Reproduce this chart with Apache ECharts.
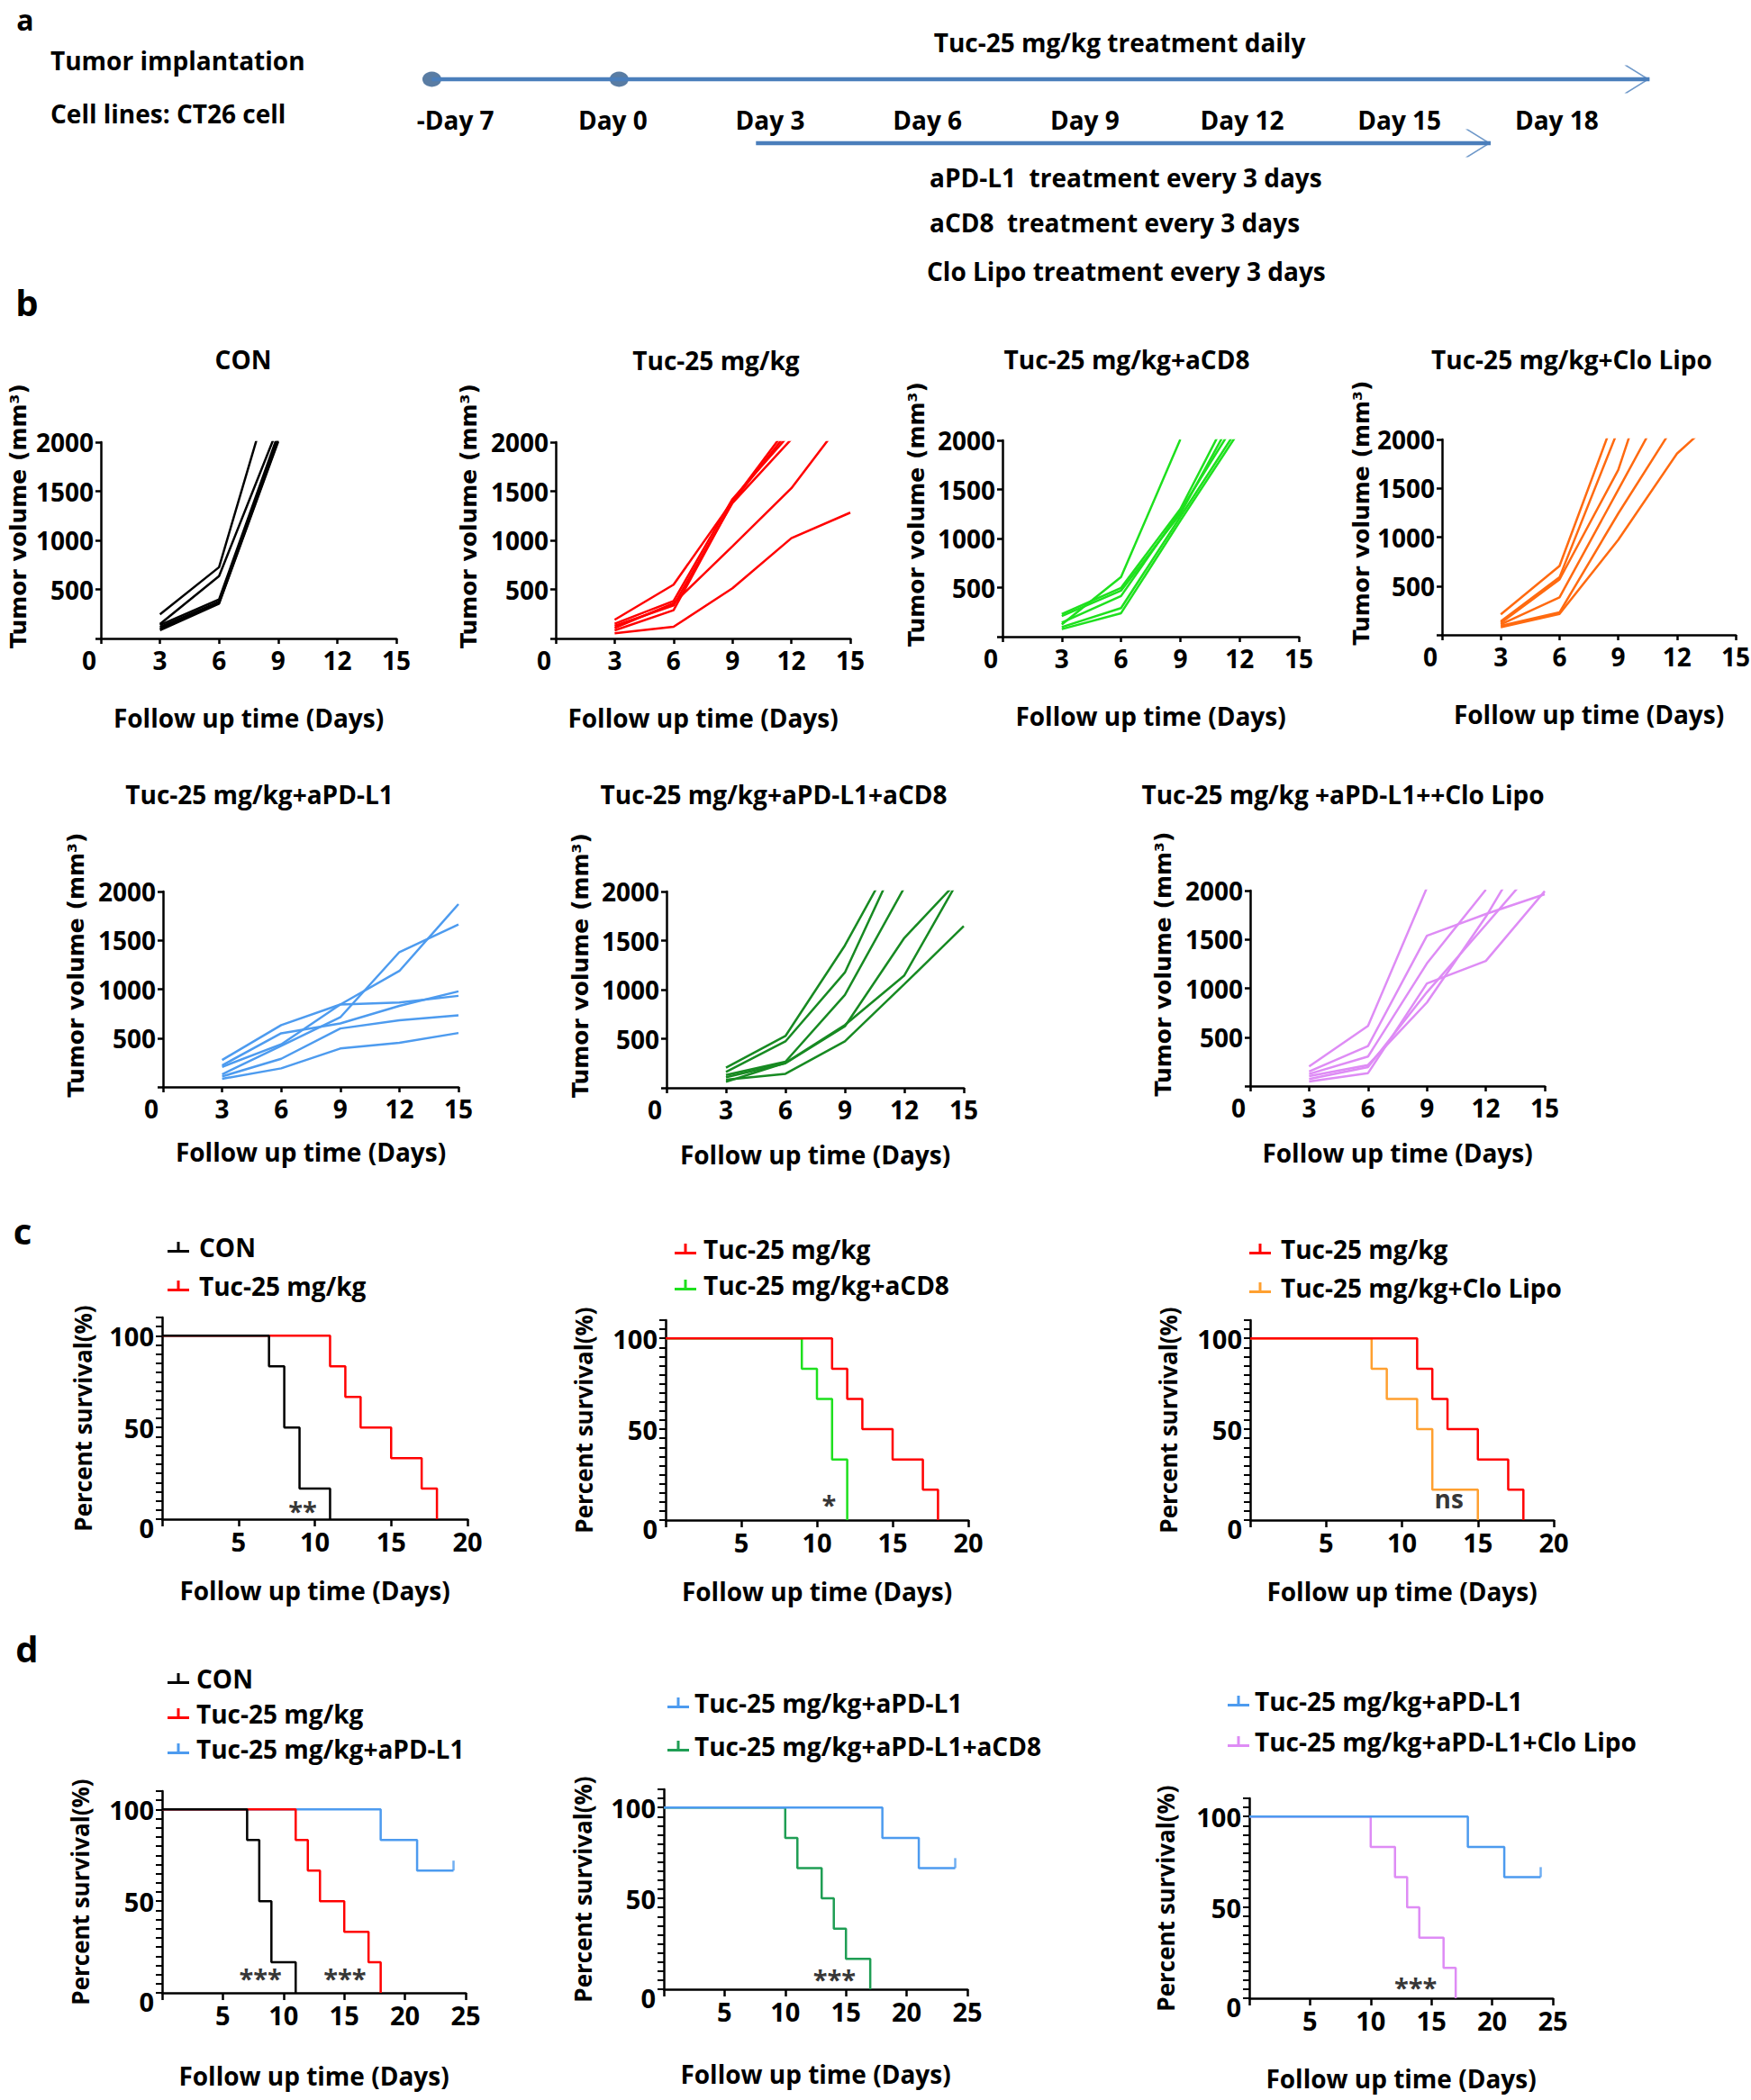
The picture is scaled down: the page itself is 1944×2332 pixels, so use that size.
<!DOCTYPE html>
<html><head><meta charset="utf-8">
<script src="https://cdn.jsdelivr.net/npm/echarts/dist/echarts.min.js"></script>
<style>html,body{margin:0;padding:0;background:#fff}#c{width:1944px;height:2332px}</style>
</head><body><div id="c"></div>
<script>
// ---------------- DATA ----------------
// panel a: timeline (slot index along the schematic axis)
const timelineLabels = ['-Day 7','Day 0','Day 3','Day 6','Day 9','Day 12','Day 15','Day 18'];
const implantMarkers = [-0.15, 1.04];
const dailyArrow = [-0.15, 7.59];
const every3Arrow = [1.91, 6.58];
const timelineNotes = ['Tuc-25 mg/kg treatment daily','Tumor implantation','Cell lines: CT26 cell',
  'aPD-L1\u00a0 treatment every 3 days','aCD8\u00a0 treatment every 3 days','Clo Lipo treatment every 3 days'];

// panel b: tumor volumes (mm3) on follow-up days
const tumorDays = [3, 6, 9, 12, 15];
const volCON = [[245,726,2770],[146,635,2150],[137,397,2080],[116,375,2040],[100,362,2020],[85,354,2005]];
const volTuc = [[190,548,1400,2200],[150,382,1420,2100],[128,337,1380,2030],[107,358,940,1530,2320],[83,288,1390,2150],[52,119,511,1022,1282]];
const volCD8 = [[123,607,2010],[230,497,1300,2470],[209,469,1250,2350],[144,414,1280,2250],[98,291,1220,2150],[77,239,1180,2100]];
const volClo = [[209,705,2324],[138,589,2100],[123,567,1687,3500],[107,383,1485,2590],[92,230,1242,2190],[77,215,972,1855,2400]];
const volPDL1 = [[276,632,843,865,932],[221,549,650,830,978],[205,436,843,1187,1871],[129,420,712,1380,1662],[107,288,598,681,733],[83,190,393,451,552]];
const volPDCD8 = [[205,528,1450,2550],[162,473,1175,2480],[131,266,946,2040],[107,250,626,1527,2170],[82,143,473,1056,1648],[61,255,640,1145,2210]];
const volPDClo = [[200,615,2030],[148,409,1538,1760,1963],[123,302,1255,2010],[102,215,855,1732,2740],[71,194,960,1650,2350],[46,132,1049,1280,1994]];
const panelTitlesB = ['CON','Tuc-25 mg/kg','Tuc-25 mg/kg+aCD8','Tuc-25 mg/kg+Clo Lipo',
  'Tuc-25 mg/kg+aPD-L1','Tuc-25 mg/kg+aPD-L1+aCD8','Tuc-25 mg/kg +aPD-L1++Clo Lipo'];

// panels c, d: Kaplan-Meier survival [day, percent]
const kmCON   = [[0,100],[7,83.3],[8,50],[9,16.7],[11,0]];
const kmTuc   = [[0,100],[11,83.3],[12,66.7],[13,50],[15,33.3],[17,16.7],[18,0]];
const kmCD8   = [[0,100],[9,83.3],[10,66.7],[11,33.3],[12,0]];
const kmClo   = [[0,100],[8,83.3],[9,66.7],[11,50],[12,16.7],[15,0]];
const kmPDL1  = [[0,100],[18,83.3],[21,66.7],[24,66.7]];
const kmPDCD8 = [[0,100],[10,83.3],[11,66.7],[13,50],[14,33.3],[15,16.7],[17,0]];
const kmPDClo = [[0,100],[10,83.3],[12,66.7],[13,50],[14,33.3],[16,16.7],[17,0]];
const censorPDL1 = [[24,66.7]];
const survTicksC = 20, survTicksD = 25;
const sigMarks = [
  {panel:8,  text:'**',  at:[9.2, 4.5]},
  {panel:9,  text:'*',   at:[10.8, 8.5]},
  {panel:10, text:'ns',  at:[13.1, 12]},
  {panel:11, text:'***', at:[8.1, 8]},
  {panel:11, text:'***', at:[15.05, 8]},
  {panel:12, text:'***', at:[14.05, 5.6]},
  {panel:13, text:'***', at:[13.7, 6.2]}
];
const N_CON='CON', N_TUC='Tuc-25 mg/kg', N_CD8='Tuc-25 mg/kg+aCD8', N_CLO='Tuc-25 mg/kg+Clo Lipo',
      N_PDL1='Tuc-25 mg/kg+aPD-L1', N_PDCD8='Tuc-25 mg/kg+aPD-L1+aCD8', N_PDCLO='Tuc-25 mg/kg+aPD-L1+Clo Lipo';

// ---------------- STYLE ----------------
const FONT = 'Open Sans', K = '#000';
const C = {CON:'#000000', TUC:'#ff0000', CD8:'#1ee01e', CLO:'#ff6a10', CLOKM:'#ffa030',
           PDL1:'#4d9bef', PDCD8:'#178a22', PDCD8KM:'#1f9e54', PDCLO:'#de8cf5', TL:'#4a7ebb', DOT:'#2f5b8c'};

const chart = echarts.init(document.getElementById('c'), null, {renderer:'svg', width:1944, height:2332});

const grids = [
  {left:331, top:17, width:1572, height:71},    // 0 timeline (bottom edge = main arrow)
  {left:112, top:491, width:328, height:218},   // 1 CON
  {left:617, top:491, width:327, height:218},   // 2 Tuc
  {left:1113, top:489, width:329, height:218},  // 3 aCD8
  {left:1601, top:488, width:326, height:217},  // 4 Clo
  {left:181, top:990, width:328, height:217},   // 5 aPD-L1
  {left:740, top:990, width:330, height:218},   // 6 aPD-L1+aCD8
  {left:1388, top:989, width:327, height:217},  // 7 aPD-L1+Clo
  {left:180, top:1463, width:339, height:224},  // 8 c1
  {left:739, top:1466, width:336, height:222},  // 9 c2
  {left:1388, top:1466, width:337, height:222}, // 10 c3
  {left:180, top:1989, width:337, height:224},  // 11 d1
  {left:737, top:1987, width:337, height:222},  // 12 d2
  {left:1387, top:1997, width:337, height:222}  // 13 d3
].map(g => Object.assign({outerBoundsMode:'none', containLabel:false}, g));

const lineAx = {color:K, width:2.5};
const lblBase = {color:K, fontFamily:FONT, fontWeight:'bold'};

const xAxes = [], yAxes = [];
// timeline axes
xAxes.push({type:'value', gridIndex:0, min:-1, max:8, interval:1, position:'bottom',
  axisLine:{show:false, onZero:false}, axisTick:{show:false}, splitLine:{show:false},
  axisLabel:Object.assign({margin:31, fontSize:28, formatter:v => timelineLabels[v] || ''}, lblBase)});
yAxes.push({type:'value', gridIndex:0, min:0, max:1, show:false, splitLine:{show:false}});

function volAxes(gi, xGap, yGap) {
  xAxes.push({type:'value', gridIndex:gi, min:0, max:15, interval:3,
    axisLine:{show:true, onZero:false, lineStyle:lineAx},
    axisTick:{show:true, length:6, lineStyle:lineAx}, splitLine:{show:false},
    axisLabel:Object.assign({margin:10, fontSize:28,
      formatter:v => v === 0 ? '{o|0}' : String(v),
      rich:{o:Object.assign({fontSize:28, padding:[0,26,0,0]}, lblBase)}}, lblBase),
    name:'Follow up time (Days)', nameLocation:'middle', nameGap:xGap,
    nameTextStyle:Object.assign({fontSize:28}, lblBase)});
  yAxes.push({type:'value', gridIndex:gi, min:0, max:2000, interval:500,
    axisLine:{show:true, onZero:false, lineStyle:lineAx},
    axisTick:{show:true, length:6, lineStyle:lineAx}, splitLine:{show:false},
    axisLabel:Object.assign({margin:8, fontSize:28, formatter:v => v === 0 ? '' : String(v)}, lblBase),
    name:'Tumor volume (mm³)', nameLocation:'middle', nameGap:yGap, nameRotate:90,
    nameTextStyle:{color:K, fontFamily:'DejaVu Sans', fontWeight:'bold', fontSize:25, padding:[0,0,0,54]}});
}
volAxes(1, 74, 79); volAxes(2, 74, 84); volAxes(3, 74, 83); volAxes(4, 74, 77);
volAxes(5, 58, 84); volAxes(6, 60, 83); volAxes(7, 60, 84);

function survAxes(gi, xmax, xGap, yGap) {
  xAxes.push({type:'value', gridIndex:gi, min:0, max:xmax, interval:5,
    axisLine:{show:true, onZero:false, lineStyle:lineAx},
    axisTick:{show:true, length:8, lineStyle:lineAx}, splitLine:{show:false},
    axisLabel:Object.assign({margin:10, fontSize:29, formatter:v => v === 0 ? '' : String(v)}, lblBase),
    name:'Follow up time (Days)', nameLocation:'middle', nameGap:xGap,
    nameTextStyle:Object.assign({fontSize:28}, lblBase)});
  yAxes.push({type:'value', gridIndex:gi, min:0, max:110, interval:5,
    axisLine:{show:true, onZero:false, lineStyle:lineAx},
    axisTick:{show:true, length:7, lineStyle:{color:K, width:2}}, splitLine:{show:false},
    axisLabel:Object.assign({margin:9, fontSize:29,
      formatter:v => v === 0 ? '{z|0}' : (v % 50 === 0 ? String(v) : ''),
      rich:{z:Object.assign({fontSize:29, padding:[18,0,0,0]}, lblBase)}}, lblBase),
    name:'Percent survival(%)', nameLocation:'middle', nameGap:yGap, nameRotate:90,
    nameTextStyle:{color:K, fontFamily:FONT, fontWeight:'bold', fontSize:26}});
}
survAxes(8, survTicksC, 65, 75); survAxes(9, survTicksC, 65, 78); survAxes(10, survTicksC, 65, 78);
survAxes(11, survTicksD, 78, 78); survAxes(12, survTicksD, 80, 77); survAxes(13, survTicksD, 75, 80);

// ---------------- SERIES ----------------
const series = [];
const chevron = 'path://M0,0 L3,0 L28,15.5 L3,31 L0,31 L25,15.5 Z';
series.push({type:'line', xAxisIndex:0, yAxisIndex:0, clip:false, symbol:'none',
  data:[[dailyArrow[0],0],[dailyArrow[1],0]], lineStyle:{color:C.TL, width:4.5}});
series.push({type:'line', xAxisIndex:0, yAxisIndex:0, clip:false, symbol:'none',
  data:[[every3Arrow[0],-1],[every3Arrow[1],-1]], lineStyle:{color:C.TL, width:4.5}});
series.push({type:'scatter', xAxisIndex:0, yAxisIndex:0, clip:false, symbol:chevron,
  symbolSize:[28,31], symbolOffset:[-14,0], itemStyle:{color:C.TL},
  data:[[dailyArrow[1],0],[every3Arrow[1],-1]]});
series.push({type:'scatter', xAxisIndex:0, yAxisIndex:0, clip:false, symbol:'circle',
  symbolSize:[21,17], itemStyle:{color:C.DOT}, data:implantMarkers.map(s => [s,0])});

function volSeries(rows, color, gi) {
  rows.forEach(r => series.push({type:'line', xAxisIndex:gi, yAxisIndex:gi, clip:true, symbol:'none',
    data:r.map((v,i) => [tumorDays[i], v]), lineStyle:{color, width:2.5}, itemStyle:{color}}));
}
volSeries(volCON, C.CON, 1); volSeries(volTuc, C.TUC, 2); volSeries(volCD8, C.CD8, 3);
volSeries(volClo, C.CLO, 4); volSeries(volPDL1, C.PDL1, 5); volSeries(volPDCD8, C.PDCD8, 6);
volSeries(volPDClo, C.PDCLO, 7);

function km(name, data, color, gi) {
  series.push({type:'line', name, xAxisIndex:gi, yAxisIndex:gi, step:'end', symbol:'none', clip:false,
    data, lineStyle:{color, width:2.5}, itemStyle:{color, borderWidth:0}});
}
function censor(data, color, gi) {
  series.push({type:'scatter', name:'censor', xAxisIndex:gi, yAxisIndex:gi, clip:false, symbol:'rect',
    symbolSize:[2.5,11], symbolOffset:[0,-5.5], itemStyle:{color}, data});
}
km(N_TUC, kmTuc, C.TUC, 8);  km(N_CON, kmCON, C.CON, 8);
km(N_CD8, kmCD8, C.CD8, 9);  km(N_TUC, kmTuc, C.TUC, 9);
km(N_CLO, kmClo, C.CLOKM, 10); km(N_TUC, kmTuc, C.TUC, 10);
km(N_PDL1, kmPDL1, C.PDL1, 11); km(N_TUC, kmTuc, C.TUC, 11); km(N_CON, kmCON, C.CON, 11);
censor(censorPDL1, C.PDL1, 11);
km(N_PDCD8, kmPDCD8, C.PDCD8KM, 12); km(N_PDL1, kmPDL1, C.PDL1, 12); censor(censorPDL1, C.PDL1, 12);
km(N_PDCLO, kmPDClo, C.PDCLO, 13); km(N_PDL1, kmPDL1, C.PDL1, 13); censor(censorPDL1, C.PDL1, 13);

sigMarks.forEach(m => series.push({type:'scatter', xAxisIndex:m.panel, yAxisIndex:m.panel, clip:false,
  symbolSize:1, itemStyle:{color:'rgba(0,0,0,0)'}, data:[{name:m.text, value:m.at}],
  label:{show:true, position:'inside', formatter:'{b}', color:K, fontFamily:FONT,
    fontWeight:'bold', fontSize:m.text === 'ns' ? 28 : 29}}));

// ---------------- LEGENDS ----------------
const kmIcon = 'path://M0,9 L24,9 L24,12 L0,12 Z M10.5,0 L13.5,0 L13.5,9 L10.5,9 Z';
function leg(names, left, top, gap, pad) {
  return {show:true, orient:'vertical', left, top, itemWidth:24, itemHeight:12, itemGap:gap,
    icon:kmIcon, selectedMode:false, data:names, itemStyle:{borderWidth:0},
    textStyle:{color:K, fontFamily:FONT, fontWeight:'bold', fontSize:28, lineHeight:30, padding:[0,0,0,pad]}};
}
const legends = [
  leg([N_CON, N_TUC], 181, 1365, 13, 6),
  leg([N_TUC, N_CD8], 744, 1367, 10, 3),
  leg([N_TUC, N_CLO], 1382, 1367, 13, 6),
  leg([N_CON, N_TUC, N_PDL1], 181, 1844, 9, 3),
  leg([N_PDL1, N_PDCD8], 736, 1871, 18, 1),
  leg([N_PDL1, N_PDCLO], 1358, 1869, 15, 1)
];

// ---------------- TEXT ----------------
const graphics = [];
function txt(text, x, y, size, align, vAlign) {
  graphics.push({type:'text', x, y, silent:true, style:{text, fill:K,
    font:'bold ' + size + 'px "' + FONT + '"',
    align:align || 'center', textAlign:align || 'center',
    verticalAlign:vAlign || 'middle', textVerticalAlign:vAlign || 'middle'}});
}
txt('a', 28, 5, 32, 'center', 'top'); txt('b', 30, 335, 40); txt('c', 25, 1366, 40); txt('d', 30, 1830, 40);
txt(timelineNotes[0], 1243, 47, 28);
txt(timelineNotes[1], 56, 67, 28, 'left');
txt(timelineNotes[2], 56, 126, 28, 'left');
txt(timelineNotes[3], 1032, 197, 28, 'left');
txt(timelineNotes[4], 1032, 247, 28, 'left');
txt(timelineNotes[5], 1029, 301, 28, 'left');
const titlePos = [[270,399],[795,400],[1251,399],[1745,399],[288,882],[859,882],[1491,882]];
panelTitlesB.forEach((t, i) => txt(t, titlePos[i][0], titlePos[i][1], 28));

chart.setOption({
  animation:false, backgroundColor:'#fff',
  grid:grids, xAxis:xAxes, yAxis:yAxes, series, legend:legends, graphic:graphics
});
</script></body></html>
